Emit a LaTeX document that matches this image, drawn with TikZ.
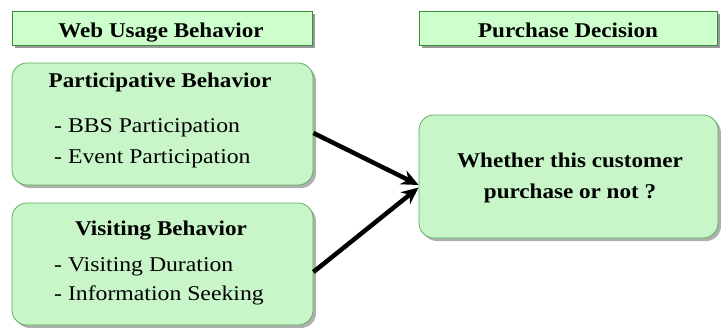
\documentclass[tikz,border=0pt]{standalone}
\usepackage{fontspec}
\setmainfont{Liberation Serif}
\newfontfamily\boldface[FakeStretch=1.1]{Liberation Serif}
\newfontfamily\itemface[FakeStretch=1.13]{Liberation Serif}
\usetikzlibrary{arrows.meta,shadows}
\definecolor{hdfill}{RGB}{204,255,204}
\definecolor{bxfill}{RGB}{200,246,200}
\definecolor{hdline}{RGB}{60,140,60}
\definecolor{bxline}{RGB}{95,175,95}
\tikzset{
  header/.style={draw=hdline, line width=0.8pt, fill=hdfill, minimum width=300pt, minimum height=34pt, inner sep=0pt,
    drop shadow={shadow xshift=3pt, shadow yshift=-3pt, fill=gray!80, opacity=1}},
  roundbox/.style={draw=bxline, line width=0.8pt, fill=bxfill, rounded corners=15pt, minimum width=301pt, minimum height=122pt, inner sep=0pt,
    drop shadow={shadow xshift=3pt, shadow yshift=-3pt, fill=gray!70, opacity=0.9}},
  btext/.style={inner sep=0pt, anchor=base, font=\boldface\bfseries\fontsize{21}{24}\selectfont},
  itext/.style={inner sep=0pt, anchor=base west, font=\itemface\fontsize{21}{24}\selectfont},
  link/.style={line width=4.5pt, -{Stealth[length=17pt,width=15pt]}}
}
\begin{document}
\begin{tikzpicture}[x=1pt,y=-1pt]
\useasboundingbox (0,0) rectangle (721,327);
% headers
\node[header] (h1) at (162,28) {};
\node[header, minimum width=298pt] (h2) at (568,28) {};
\node[btext] (h1t) at (161,37) {Web Usage Behavior};
\node[btext] (h2t) at (568,37) {Purchase Decision};
% boxes
\node[roundbox] (b1) at (162.5,124) {};
\node[roundbox] (b2) at (162.5,264) {};
\node[roundbox, minimum width=299pt, minimum height=123pt] (b3) at (568.5,176.5) {};
% texts
\node[btext] (b1t) at (160,87) {Participative Behavior};
\node[itext] (b1a) at (54,132) {- BBS Participation};
\node[itext] (b1b) at (54,163) {- Event Participation};
\node[btext] (b2t) at (161,235) {Visiting Behavior};
\node[itext] (b2a) at (54,271) {- Visiting Duration};
\node[itext] (b2b) at (54,300) {- Information Seeking};
\node[btext] (b3a) at (570,167) {Whether this customer};
\node[btext] (b3b) at (570,198) {purchase or not ?};
% connectors
\draw[link] ([yshift=-9pt]b1.east) -- ([yshift=-8.5pt]b3.west);
\draw[link] ([yshift=-8pt]b2.east) -- ([yshift=-11pt]b3.west);
\end{tikzpicture}
\end{document}
